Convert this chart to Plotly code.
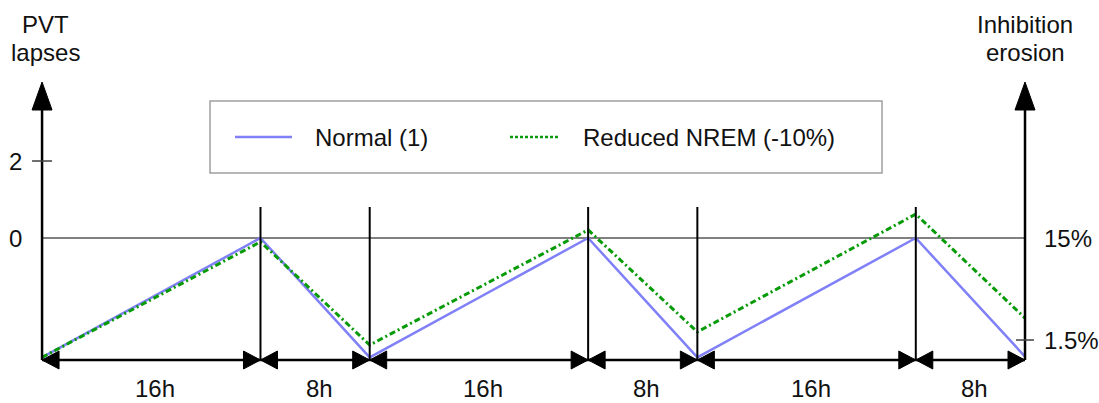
import plotly.graph_objects as go

# ---------------- data ----------------
hours = [0, 16, 24, 40, 48, 64, 72]
normal = [-3.1, 0.0, -3.1, 0.0, -3.1, 0.0, -3.08]
reduced = [-3.1, -0.1, -2.78, 0.21, -2.44, 0.62, -2.08]
series_names = ["Normal (1)", "Reduced NREM (-10%)"]
segment_labels = ["16h", "8h", "16h", "8h", "16h", "8h"]
left_ticks = [2, 0]
left_tick_text = ["2", "0"]
right_ticks = [0, -2.65]
right_tick_text = ["15%", "1.5%"]
left_title = ["PVT", "lapses"]
right_title = ["Inhibition", "erosion"]

# ---------------- layout constants ----------------
W, H = 1099, 403
X_RANGE = [-3.08, 77.42]
Y_RANGE = [-4.286, 6.182]
PX_X = W / (X_RANGE[1] - X_RANGE[0])
PX_Y = H / (Y_RANGE[1] - Y_RANGE[0])


def dx(px):
    return px / PX_X


def dy(px):
    return px / PX_Y


FONT = dict(family="Liberation Sans, Arial, sans-serif", size=24, color="#111111")
BLUE = "#8080F8"
GREEN = "#089B08"
GRAY = "#808080"

x0, x1 = hours[0], hours[-1]
arrow_y = dy(-(360 - 238))
vert_top = dy(238 - 207)
axis_tip = dy(238 - 82)

fig = go.Figure()
fig.add_trace(go.Scatter(x=hours, y=normal, mode="lines", name=series_names[0],
                         line=dict(color=BLUE, width=2.5), showlegend=False))
fig.add_trace(go.Scatter(x=hours, y=reduced, mode="lines", name=series_names[1],
                         line=dict(color=GREEN, width=3, dash="6px,3px,2px,3px"),
                         showlegend=False))

shapes = []
# zero line
shapes.append(dict(type="line", x0=x0, x1=x1, y0=0, y1=0, layer="below",
                   line=dict(color=GRAY, width=2)))
# axes with arrowheads
for ax in (x0, x1):
    base = axis_tip - dy(28)
    shapes.append(dict(type="line", x0=ax, x1=ax, y0=arrow_y, y1=base,
                       line=dict(color="black", width=2.5)))
    shapes.append(dict(type="path",
                       path=f"M {ax - dx(10)} {base} L {ax + dx(10)} {base} L {ax} {axis_tip} Z",
                       fillcolor="black", line=dict(color="black", width=1)))
# interior vertical lines
for h in hours[1:-1]:
    shapes.append(dict(type="line", x0=h, x1=h, y0=arrow_y, y1=vert_top,
                       line=dict(color="black", width=2)))
# ticks
for v in left_ticks[:1]:
    shapes.append(dict(type="line", x0=x0 - dx(10), x1=x0 + dx(10), y0=v, y1=v,
                       line=dict(color="#404040", width=1.5)))
for v in right_ticks[1:]:
    shapes.append(dict(type="line", x0=x1 - dx(9), x1=x1 + dx(9), y0=v, y1=v,
                       line=dict(color="#404040", width=1.5)))
# duration arrows
L, HH = dx(17), dy(9)
for a, b in zip(hours[:-1], hours[1:]):
    shapes.append(dict(type="line", x0=a, x1=b, y0=arrow_y, y1=arrow_y,
                       line=dict(color="black", width=2.5)))
    shapes.append(dict(type="path",
                       path=f"M {a} {arrow_y} L {a + L} {arrow_y + HH} L {a + L} {arrow_y - HH} Z",
                       fillcolor="black", line=dict(color="black", width=1)))
    shapes.append(dict(type="path",
                       path=f"M {b} {arrow_y} L {b - L} {arrow_y + HH} L {b - L} {arrow_y - HH} Z",
                       fillcolor="black", line=dict(color="black", width=1)))


# legend (drawn manually)
def px2paper(px, py):
    return px / W, 1 - py / H


lx0, ly0 = px2paper(210, 101)
lx1, ly1 = px2paper(882, 173)
shapes.append(dict(type="rect", xref="paper", yref="paper", x0=lx0, x1=lx1, y0=ly1, y1=ly0,
                   line=dict(color="#A0A0A0", width=1.5), fillcolor="white", layer="below"))
ax_, ay_ = px2paper(235, 137)
bx_, _ = px2paper(292, 137)
shapes.append(dict(type="line", xref="paper", yref="paper", x0=ax_, x1=bx_, y0=ay_, y1=ay_,
                   line=dict(color=BLUE, width=2.5)))
gx0, _ = px2paper(510, 137)
gx1, _ = px2paper(560, 137)
shapes.append(dict(type="line", xref="paper", yref="paper", x0=gx0, x1=gx1, y0=ay_, y1=ay_,
                   line=dict(color=GREEN, width=2.5, dash="3px,2px")))

annotations = []
for name, px in zip(series_names, (313, 581)):
    xp, yp = px2paper(px, 137)
    annotations.append(dict(text=name, xref="paper", yref="paper", x=xp, y=yp,
                            xanchor="left", yanchor="middle", showarrow=False, font=FONT))
# segment labels
for lab, a, b in zip(segment_labels, hours[:-1], hours[1:]):
    annotations.append(dict(text=lab, xref="x", yref="paper", x=(a + b) / 2 + dx(4),
                            y=1 - 388 / H, xanchor="center", yanchor="middle",
                            showarrow=False, font=FONT))
# left tick labels
for v, t in zip(left_ticks, left_tick_text):
    annotations.append(dict(text=t, xref="paper", yref="y", x=24 / W, y=v,
                            xanchor="right", yanchor="middle", showarrow=False, font=FONT))
# right tick labels
for v, t in zip(right_ticks, right_tick_text):
    annotations.append(dict(text=t, xref="paper", yref="y", x=1042 / W, y=v,
                            xanchor="left", yanchor="middle", showarrow=False, font=FONT))
# axis titles
for (t, py) in zip(left_title, (24, 52)):
    annotations.append(dict(text=t, xref="x", yref="paper", x=x0 + dx(3), y=1 - py / H,
                            xanchor="center", yanchor="middle", showarrow=False, font=FONT))
for (t, py) in zip(right_title, (24, 52)):
    annotations.append(dict(text=t, xref="x", yref="paper", x=x1, y=1 - py / H,
                            xanchor="center", yanchor="middle", showarrow=False, font=FONT))

fig.update_layout(
    width=W, height=H, autosize=False,
    margin=dict(l=0, r=0, t=0, b=0),
    paper_bgcolor="white", plot_bgcolor="white",
    xaxis=dict(range=X_RANGE, visible=False, fixedrange=True),
    yaxis=dict(range=Y_RANGE, visible=False, fixedrange=True),
    shapes=shapes, annotations=annotations, showlegend=False,
)

fig.write_html(
    "out.html",
    config={"displayModeBar": False},
    post_script="document.body.style.margin='0';document.body.style.overflow='hidden';",
)
